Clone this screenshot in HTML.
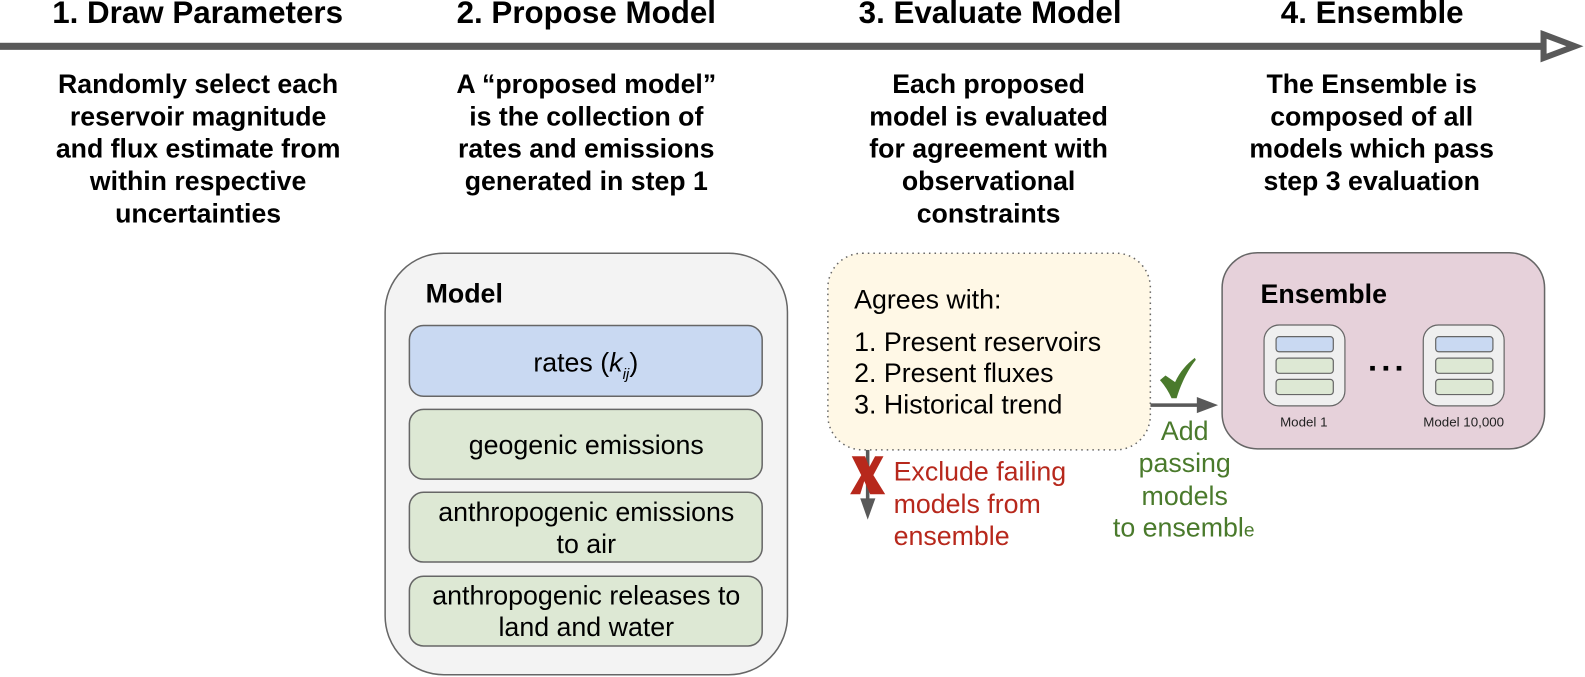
<!DOCTYPE html>
<html><head><meta charset="utf-8"><style>
html,body{margin:0;padding:0;background:#fff;overflow:hidden}
svg{display:block}
text{font-family:"Liberation Sans",Arial,sans-serif;fill:#000}
.h{font-size:31px;font-weight:bold;text-anchor:middle}
.b{font-size:26.4px;font-weight:bold;text-anchor:middle}
.t{font-size:26.5px;text-anchor:middle}
.l{font-size:26.5px}
.lb{font-size:26.5px;font-weight:bold}
.r{font-size:26.5px;fill:#b7281c}
.g{font-size:26.5px;text-anchor:middle;fill:#4a7a2c}
.s{font-size:13.2px;text-anchor:middle;fill:#222}
</style></head><body>
<svg width="1585" height="677" viewBox="0 0 1568 669.7" xmlns="http://www.w3.org/2000/svg">
<text class="h" x="195.500" y="22.500">1. Draw Parameters</text>
<text class="h" x="580" y="22.500">2. Propose Model</text>
<text class="h" x="979.500" y="22.500">3. Evaluate Model</text>
<text class="h" x="1357.500" y="22.500">4. Ensemble</text>
<rect x="0" y="42.300" width="1530" height="7" fill="#595959"/>
<path d="M1527 34 L1558 45.700 L1527 57.400 Z" fill="#fff" stroke="#595959" stroke-width="6"/>

<text class="b" x="196" y="92">Randomly select each</text>
<text class="b" x="196" y="124">reservoir magnitude</text>
<text class="b" x="196" y="156">and flux estimate from</text>
<text class="b" x="196" y="188">within respective</text>
<text class="b" x="196" y="220">uncertainties</text>

<text class="b" x="580" y="92">A “proposed model”</text>
<text class="b" x="580" y="124">is the collection of</text>
<text class="b" x="580" y="156">rates and emissions</text>
<text class="b" x="580" y="188">generated in step 1</text>

<text class="b" x="978" y="92">Each proposed</text>
<text class="b" x="978" y="124">model is evaluated</text>
<text class="b" x="978" y="156">for agreement with</text>
<text class="b" x="978" y="188">observational</text>
<text class="b" x="978" y="220">constraints</text>

<text class="b" x="1357" y="92">The Ensemble is</text>
<text class="b" x="1357" y="124">composed of all</text>
<text class="b" x="1357" y="156">models which pass</text>
<text class="b" x="1357" y="188">step 3 evaluation</text>

<rect x="381" y="250.500" width="398" height="417" rx="58" fill="#f3f3f3" stroke="#666" stroke-width="1.500"/>
<text class="lb" x="421" y="299">Model</text>
<rect x="405" y="322" width="349" height="70" rx="14" fill="#c9d9f2" stroke="#666" stroke-width="1.500"/>
<text class="t" x="579.500" y="367.700">rates (<tspan font-style="italic">k</tspan><tspan font-style="italic" font-size="15" dy="7">ij</tspan><tspan dy="-7">)</tspan></text>
<rect x="405" y="405" width="349" height="69" rx="14" fill="#dde8d4" stroke="#666" stroke-width="1.500"/>
<text class="t" x="580" y="449">geogenic emissions</text>
<rect x="405" y="487" width="349" height="69" rx="14" fill="#dde8d4" stroke="#666" stroke-width="1.500"/>
<text class="t" x="580" y="515.500">anthropogenic emissions</text>
<text class="t" x="580" y="547">to air</text>
<rect x="405" y="570" width="349" height="69" rx="14" fill="#dde8d4" stroke="#666" stroke-width="1.500"/>
<text class="t" x="580" y="598">anthropogenic releases to</text>
<text class="t" x="580" y="629">land and water</text>

<rect x="1138" y="399" width="48" height="3.500" fill="#595959"/>
<path d="M1184 392.700 L1205 400.700 L1184 408.700 Z" fill="#595959"/>
<rect x="856.600" y="445" width="3.500" height="50" fill="#595959"/>
<path d="M851 493 L866 493 L858.400 514 Z" fill="#595959"/>

<rect x="819" y="250.500" width="319" height="194.500" rx="34" fill="#fff8e6" stroke="#666" stroke-width="1.500" stroke-dasharray="1.500 4"/>
<text class="l" x="845" y="305">Agrees with:</text>
<text class="l" x="845" y="347">1. Present reservoirs</text>
<text class="l" x="845" y="378">2. Present fluxes</text>
<text class="l" x="845" y="409">3. Historical trend</text>

<path d="M1147.500 376 L1153 371.500 L1162.500 378 C1167 368 1174 360 1182 354 L1183 356 C1175 366 1168 380 1164 394 L1159 394 C1156 387 1152 381 1147.500 376 Z" fill="#4a7a2c"/>
<text class="g" x="1172" y="435.500">Add</text>
<text class="g" x="1172" y="467">passing</text>
<text class="g" x="1172" y="499.500">models</text>
<text class="g" x="1171" y="530.500">to ensembl<tspan font-size="19">e</tspan></text>

<path d="M842.600 451.300 L855.800 451.300 L860 462 L865.700 451.300 L874 451.300 L864 470 L875.700 488.900 L860.900 488.900 L855 476 L851 488.900 L841 488.900 L852 470 Z" fill="#b7281c"/>
<text class="r" x="884" y="475.500">Exclude failing</text>
<text class="r" x="884" y="507.500">models from</text>
<text class="r" x="884" y="539">ensemble</text>

<rect x="1209" y="250" width="319" height="194" rx="35" fill="#e6d1da" stroke="#666" stroke-width="1.500"/>
<text class="lb" x="1247" y="299.500">Ensemble</text>

<g stroke="#666" stroke-width="1.200">
<rect x="1250.500" y="321.500" width="80" height="80" rx="15" fill="#efefef"/>
<rect x="1262.400" y="333" width="56.600" height="15" rx="3" fill="#c9d9f2"/>
<rect x="1262.400" y="354.300" width="56.600" height="15" rx="3" fill="#dde8d4"/>
<rect x="1262.400" y="375.300" width="56.600" height="15" rx="3" fill="#dde8d4"/>
<rect x="1408" y="321.500" width="80" height="80" rx="15" fill="#efefef"/>
<rect x="1420.300" y="333" width="56.600" height="15" rx="3" fill="#c9d9f2"/>
<rect x="1420.300" y="354.300" width="56.600" height="15" rx="3" fill="#dde8d4"/>
<rect x="1420.300" y="375.300" width="56.600" height="15" rx="3" fill="#dde8d4"/>
</g>
<rect x="1355.500" y="362" width="4.600" height="4.600" fill="#000"/>
<rect x="1368.700" y="362" width="4.600" height="4.600" fill="#000"/>
<rect x="1381.700" y="362" width="4.600" height="4.600" fill="#000"/>
<text class="s" x="1289.800" y="422">Model 1</text>
<text class="s" x="1448" y="422">Model 10,000</text>
</svg>
</body></html>
